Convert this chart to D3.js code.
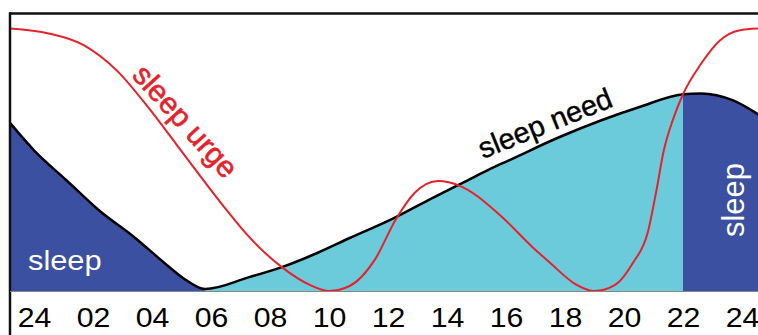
<!DOCTYPE html>
<html>
<head>
<meta charset="utf-8">
<script src="https://cdn.jsdelivr.net/npm/d3@7"></script>
<style>
  body { margin: 0; background: #fff; }
  svg { display: block; font-family: "Liberation Sans", Arial, sans-serif; }
</style>
</head>
<body>
<div id="chart"></div>
<script>
// hour of day (0 = midnight) and relative level 0-100
const needHours = [-0.8, 0, 1.1, 2.2, 3.4, 4.5, 5.05, 5.8, 7.3, 8.4, 9.6, 10.7, 12.2, 13.5, 14.7, 15.5, 16.1, 17.8, 20.5, 22, 22.6, 23.7, 24.6];
const needValues = [60.4, 50.7, 39.9, 29.1, 19.4, 9.4, 4.7, 0.7, 5.0, 8.6, 13.7, 19.1, 26.3, 33.5, 39.9, 44.2, 47.1, 55.4, 66.2, 70.9, 71.2, 68.7, 63.3];

const urgeHours = [-0.8, 0.5, 1.7, 2.8, 3.9, 4.85, 6.4, 7.3, 8.4, 9.35, 10, 10.7, 11.55, 12.25, 12.9, 13.7, 14.45, 15.8, 16.9, 17.5, 18.35, 19.0, 19.7, 20.3, 20.8, 21.1, 21.35, 21.65, 22.0, 22.6, 23.25, 23.9, 24.6];
const urgeValues = [94.6, 92.8, 88.5, 79.5, 65.8, 52.5, 30.9, 19.4, 8.6, 2.2, 0, 1.8, 11.2, 25.5, 35.3, 39.6, 37.8, 27.3, 15.8, 10.1, 2.5, 0, 2.2, 10.1, 20.9, 36.3, 50.7, 61.5, 70.9, 81.7, 90.3, 93.9, 94.6];

const tickHours = [0, 2, 4, 6, 8, 10, 12, 14, 16, 18, 20, 22, 24];
const tickLabels = ['24', '02', '04', '06', '08', '10', '12', '14', '16', '18', '20', '22', '24'];

// sleep periods (hours), everything between is awake time
const sleepMorningEnd = 5.8;
const sleepEveningStart = 22;

const width = 758;
const height = 335;
const frame = { left: 10, top: 13.5, bottom: 291, right: 758 };

const svg = d3.select('#chart')
    .append('svg')
    .attr('width', width)
    .attr('height', height);

const x = d3.scaleLinear().domain([0, 24]).range([34, 742]);
const y = d3.scaleLinear().domain([0, 100]).range([frame.bottom, frame.top]);

const need = needHours.map((h, i) => ({ h: h, v: needValues[i] }));
const urge = urgeHours.map((h, i) => ({ h: h, v: urgeValues[i] }));

const defs = svg.append('defs');
const clips = [
    { id: 'clip-am', x0: frame.left, x1: x(sleepMorningEnd) },
    { id: 'clip-day', x0: x(sleepMorningEnd), x1: x(sleepEveningStart) },
    { id: 'clip-pm', x0: x(sleepEveningStart), x1: frame.right }
];
clips.forEach(c => {
    defs.append('clipPath').attr('id', c.id)
        .append('rect')
        .attr('x', c.x0).attr('y', 0)
        .attr('width', c.x1 - c.x0).attr('height', frame.bottom);
});

const area = d3.area()
    .x(d => x(d.h))
    .y0(y(0))
    .y1(d => y(d.v))
    .curve(d3.curveMonotoneX);

const line = d3.line()
    .x(d => x(d.h))
    .y(d => y(d.v))
    .curve(d3.curveMonotoneX);

const plot = svg.append('g');
const fills = [['clip-am', '#3b50a0'], ['clip-day', '#6ccbdb'], ['clip-pm', '#3b50a0']];
fills.forEach(f => {
    plot.append('path')
        .datum(need)
        .attr('d', area)
        .attr('fill', f[1])
        .attr('clip-path', 'url(#' + f[0] + ')');
});

// sleep need curve
plot.append('path')
    .datum(need)
    .attr('d', line)
    .attr('fill', 'none')
    .attr('stroke', '#000')
    .attr('stroke-width', 2.5);

// sleep urge curve
plot.append('path')
    .datum(urge)
    .attr('d', line)
    .attr('fill', 'none')
    .attr('stroke', '#e8202a')
    .attr('stroke-width', 2);

// frame: top and left only, the rest is cut off
svg.append('line')
    .attr('x1', frame.left).attr('x2', frame.right)
    .attr('y1', frame.top).attr('y2', frame.top)
    .attr('stroke', '#111').attr('stroke-width', 2.5);
svg.append('line')
    .attr('x1', frame.left).attr('x2', frame.left)
    .attr('y1', frame.top - 1.2).attr('y2', height)
    .attr('stroke', '#111').attr('stroke-width', 2.5);
svg.append('line')
    .attr('x1', frame.left).attr('x2', frame.right)
    .attr('y1', frame.bottom + 0.5).attr('y2', frame.bottom + 0.5)
    .attr('stroke', '#888').attr('stroke-width', 1);

// hour axis
const axis = svg.append('g')
    .attr('transform', `translate(0, ${frame.bottom})`)
    .call(d3.axisBottom(x)
        .tickValues(tickHours)
        .tickFormat((d, i) => tickLabels[i])
        .tickSize(0)
        .tickSizeOuter(0));
axis.select('.domain').remove();
axis.selectAll('text')
    .attr('y', 16)
    .attr('dy', '0.71em')
    .attr('transform', 'scale(1.08,1)')
    .style('font-family', '"Liberation Sans", Arial, sans-serif')
    .style('font-size', '28px')
    .attr('fill', '#000');

// labels
svg.append('text')
    .attr('transform', 'translate(28, 270) scale(1.1,1)')
    .attr('fill', '#fff')
    .style('font-size', '28px')
    .text('sleep');

svg.append('text')
    .attr('transform', 'translate(744, 200) rotate(-90)')
    .attr('text-anchor', 'middle')
    .attr('fill', '#fff')
    .style('font-size', '31px')
    .text('sleep');

svg.append('text')
    .attr('transform', 'translate(131, 76) rotate(48)')
    .attr('fill', '#e8202a')
    .attr('stroke', '#e8202a')
    .attr('stroke-width', 0.6)
    .style('font-size', '30px')
    .text('sleep urge');

svg.append('text')
    .attr('transform', 'translate(483, 159) rotate(-22)')
    .attr('fill', '#000')
    .attr('stroke', '#000')
    .attr('stroke-width', 0.4)
    .style('font-size', '29px')
    .text('sleep need');
</script>
</body>
</html>
